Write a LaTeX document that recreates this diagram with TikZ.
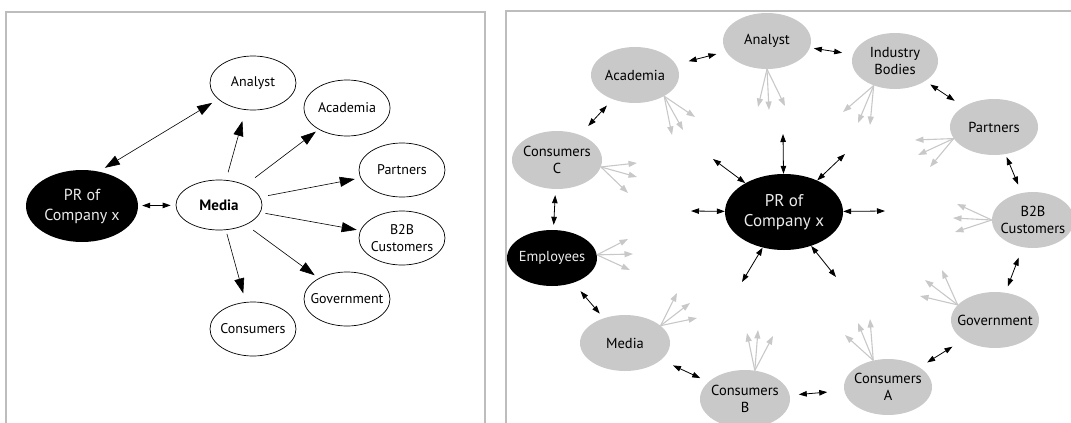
\documentclass[tikz,border=0pt]{standalone}
\usepackage{fontspec}
\setmainfont{PT Sans}
\usetikzlibrary{arrows.meta,shapes.geometric}
\definecolor{nodegray}{HTML}{C9C9C9}
\definecolor{fangray}{HTML}{C8C8C8}
\definecolor{framegray}{HTML}{BDBDBD}
\begin{document}
\begin{tikzpicture}[x=1pt,y=-1pt,
  base/.style={ellipse, inner xsep=-30pt, inner ysep=-20pt, align=center, font=\fontsize{14}{17}\selectfont},
  wnode/.style={base, draw=black, line width=0.7pt, fill=white, text=black},
  bnode/.style={base, fill=black, text=white!92!black},
  gnode/.style={base, fill=nodegray, text=black, font=\fontsize{14.5}{17}\selectfont},
  sz/.style 2 args={minimum width=#1pt, minimum height=#2pt},
  bigarrow/.style={-{Triangle[length=15pt,width=10pt]}, line width=0.6pt},
  bigdbl/.style={{Triangle[length=15pt,width=10pt]}-{Triangle[length=15pt,width=10pt]}, line width=0.6pt},
  smalldbl/.style={{Triangle[length=8pt,width=5.5pt]}-{Triangle[length=8pt,width=5.5pt]}, line width=0.8pt},
  fan/.style={-{Triangle[length=8.5pt,width=6pt]}, draw=fangray, line width=1.1pt},
  frame/.style={draw=framegray, line width=1.3pt}
]
\useasboundingbox (0,0) rectangle (1071,423);
% frames
\coordinate (fl1) at (6,424); \coordinate (fl2) at (6,12);
\coordinate (fl3) at (485,12); \coordinate (fl4) at (485,424);
\draw[frame] (fl1) -- (fl2) -- (fl3) -- (fl4);
\coordinate (fr1) at (506,424); \coordinate (fr2) at (506,11); \coordinate (fr3) at (1075,11);
\draw[frame] (fr1) -- (fr2) -- (fr3);

% ---------------- left panel ----------------
\node[bnode, sz={112}{72}, font=\fontsize{16}{20}\selectfont] (pr1) at (82,206) {PR of\\Company x};
\node[wnode, sz={86}{50}, font=\fontsize{15}{17}\selectfont\bfseries] (med1) at (219,205) {Media};
\node[wnode, sz={86}{54}] (an1) at (253,83) {Analyst};
\node[wnode, sz={86}{56}] (aca1) at (347,108) {Academia};
\node[wnode, sz={86}{54}] (par1) at (402,170) {Partners};
\node[wnode, sz={86}{54}] (b2b1) at (402,238) {B2B\\Customers};
\node[wnode, sz={86}{54}] (gov1) at (347,299) {Government};
\node[wnode, sz={86}{54}] (con1) at (253,329) {Consumers};

\draw[bigdbl, shorten <=7pt, shorten >=7pt] (pr1.64) -- (an1.205);
\draw[smalldbl, shorten <=4pt, shorten >=5pt] (pr1) -- (med1);
\draw[bigarrow, shorten <=8pt, shorten >=11.5pt] (med1) -- (an1);
\draw[bigarrow, shorten <=12pt, shorten >=3.6pt] (med1) -- (aca1);
\draw[bigarrow, shorten <=8pt, shorten >=5.8pt] (med1) -- (par1);
\draw[bigarrow, shorten <=5pt, shorten >=3.7pt] (med1) -- (b2b1);
\draw[bigarrow, shorten <=9pt, shorten >=5pt] (med1) -- (gov1);
\draw[bigarrow, shorten <=4pt, shorten >=9pt] (med1) -- (con1);

% ---------------- right panel ----------------
\node[bnode, sz={118}{76}, font=\fontsize{17}{20}\selectfont] (pr2) at (784,212) {PR of\\Company x};
\node[gnode, sz={88}{56}] (an2) at (767,41) {Analyst};
\node[gnode, sz={86}{56}] (ind) at (895,61) {Industry\\Bodies};
\node[gnode, sz={88}{56}] (par2) at (994,127) {Partners};
\node[gnode, sz={82}{56}] (b2b2) at (1033,220) {B2B\\Customers};
\node[gnode, sz={88}{56}] (gov2) at (995,320) {Government};
\node[gnode, sz={88}{56}] (cona) at (888,387) {Consumers\\A};
\node[gnode, sz={90}{58}] (conb) at (745,399) {Consumers\\B};
\node[gnode, sz={90}{56}] (med2) at (625,343) {Media};
\node[bnode, sz={90}{56}, font=\fontsize{14.5}{17}\selectfont] (emp) at (552,258) {Employees};
\node[gnode, sz={90}{58}] (conc) at (557,160) {Consumers\\C};
\node[gnode, sz={88}{56}] (aca2) at (635,75) {Academia};

% ring arrows
\draw[smalldbl, shorten <=13pt, shorten >=10pt] (aca2) -- (an2);
\draw[smalldbl, shorten <=4pt, shorten >=11pt] (an2) -- (ind);
\draw[smalldbl, shorten <=6pt, shorten >=10.5pt] (ind) -- (par2);
\draw[smalldbl, shorten <=3pt, shorten >=9pt] (par2) -- (b2b2);
\draw[smalldbl, shorten <=11pt, shorten >=6.5pt] (b2b2) -- (gov2);
\draw[smalldbl, shorten <=13pt, shorten >=9pt] (gov2) -- (cona);
\draw[smalldbl, shorten <=17pt, shorten >=9pt] (cona) -- (conb);
\draw[smalldbl, shorten <=9pt, shorten >=13pt] (conb) -- (med2);
\draw[smalldbl, shorten <=6pt, shorten >=11pt] (med2) -- (emp);
\draw[smalldbl, shorten <=5pt, shorten >=6pt] (emp) -- (conc);
\draw[smalldbl, shorten <=12pt, shorten >=8.5pt] (conc) -- (aca2);

% radial arrows from PR
\coordinate (rU) at (783,134);
\coordinate (rUL) at (713,159);
\coordinate (rL) at (691,211);
\coordinate (rUR) at (845,154);
\coordinate (rR) at (885,211);
\coordinate (rDR) at (836,277);
\coordinate (rDL) at (742,282);
\foreach \c in {rU,rUL,rL,rUR,rR,rDR,rDL}
  \draw[smalldbl] (pr2) -- (\c);

% fans
\coordinate (fa1) at (758,107); \coordinate (fa2) at (769,110); \coordinate (fa3) at (785,106);
\coordinate (fb1) at (672,135); \coordinate (fb2) at (683,130); \coordinate (fb3) at (695,117);
\coordinate (fc1) at (637,163); \coordinate (fc2) at (637,177); \coordinate (fc3) at (628,193);
\coordinate (fd1) at (843,112); \coordinate (fd2) at (858,123); \coordinate (fd3) at (870,125);
\coordinate (fe1) at (915,140); \coordinate (fe2) at (918,155); \coordinate (fe3) at (930,167);
\coordinate (ff1) at (957,204); \coordinate (ff2) at (953,218); \coordinate (ff3) at (955,232);
\coordinate (fg1) at (942,270); \coordinate (fg2) at (925,280); \coordinate (fg3) at (920,296);
\coordinate (fh1) at (845,335); \coordinate (fh2) at (858,323); \coordinate (fh3) at (870,319);
\coordinate (fi1) at (747,333); \coordinate (fi2) at (758,330); \coordinate (fi3) at (773,336);
\coordinate (fj1) at (677,293); \coordinate (fj2) at (690,303); \coordinate (fj3) at (697,318);
\coordinate (fk1) at (628,239); \coordinate (fk2) at (633,254); \coordinate (fk3) at (630,270);
\foreach \i in {1,2,3} {
  \draw[fan] (an2.south) -- (fa\i);
  \draw[fan] (aca2.-36) -- (fb\i);
  \draw[fan] (conc.-9) -- (fc\i);
  \draw[fan] (ind.229) -- (fd\i);
  \draw[fan] (par2.196) -- (fe\i);
  \draw[fan] (b2b2.west) -- (ff\i);
  \draw[fan] (gov2.158) -- (fg\i);
  \draw[fan] (cona.119) -- (fh\i);
  \draw[fan] (conb.71) -- (fi\i);
  \draw[fan] (med2.26) -- (fj\i);
  \draw[fan] (emp.4) -- (fk\i);
}
\end{tikzpicture}
\end{document}
